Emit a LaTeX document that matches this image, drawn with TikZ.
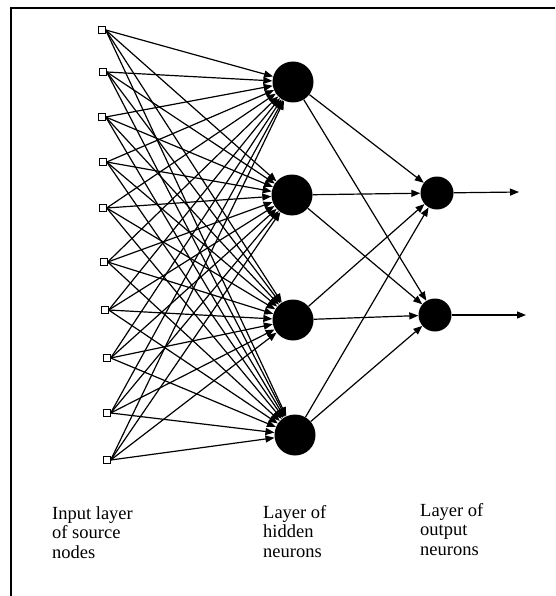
\documentclass[tikz,border=0pt]{standalone}
\usepackage{fontspec}
\setmainfont{Liberation Serif}
\usetikzlibrary{arrows.meta}

\tikzset{
  source/.style={draw, fill=white, minimum size=6.5pt, inner sep=0pt, line width=0.9pt},
  hidden/.style={circle, fill=black, minimum width=39pt, minimum height=41pt, inner sep=0pt},
  output/.style={circle, fill=black, minimum size=33pt, inner sep=0pt},
  synapse/.style={line width=1.2pt, -{Triangle[length=9pt,width=7pt]}},
  caption/.style={anchor=base west, align=left, inner sep=0pt, font=\fontsize{18.5}{19.5}\selectfont}
}

\begin{document}
\begin{tikzpicture}[x=1pt, y=-1pt]
    \useasboundingbox (0,0) rectangle (555,596);
    \draw[line width=1.4pt] (11,596) -- (11,8) -- (555,8);

    % input layer
    \foreach \n/\x/\y in {1/102/30, 2/103/72, 3/102/117, 4/103/162, 5/103/208,
                          6/104/262, 7/105/310, 8/107/358, 9/107/413, 10/107/460}
        \node[source] (i\n) at (\x,\y) {};

    % hidden layer
    \node[hidden] (h1) at (293,82) {};
    \node[hidden] (h2) at (292,195) {};
    \node[hidden] (h3) at (293,320) {};
    \node[hidden] (h4) at (295,435) {};

    % output layer
    \node[output] (o1) at (437,193) {};
    \node[output] (o2) at (435,315) {};
    \coordinate (y1) at (519,192);
    \coordinate (y2) at (526,315);

    \foreach \i in {1,...,10}
        \foreach \h in {1,...,4}
            \draw[synapse] (i\i.east) -- (h\h);
    \foreach \h in {1,...,4}
        \foreach \o in {1,2}
            \draw[synapse] (h\h) -- (o\o);
    \draw[synapse] (o1) -- (y1);
    \draw[synapse] (o2) -- (y2);

    \node[caption] (cin) at (52,558) {Input layer\\of source\\nodes};
    \node[caption] (chid) at (263,557) {Layer of\\hidden\\neurons};
    \node[caption] (cout) at (420,555) {Layer of\\output\\neurons};
\end{tikzpicture}
\end{document}
